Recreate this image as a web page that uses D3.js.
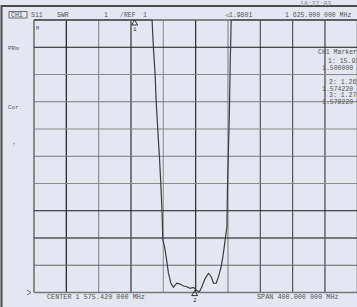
<!DOCTYPE html>
<html>
<head>
<meta charset="utf-8">
<script src="https://cdn.jsdelivr.net/npm/d3@7"></script>
<style>
  html, body { margin: 0; padding: 0; background: #e4e6f1; overflow: hidden; }
  text { font-family: "Liberation Mono", "DejaVu Sans Mono", monospace; }
</style>
</head>
<body>
<div id="chart"></div>
<script>
// S11 SWR trace, frequency in MHz
const freqMHz = [1375.42, 1420, 1460, 1500, 1515, 1521.5, 1523.1, 1525.3, 1526.5, 1528.6, 1530.6,
  1532.3, 1533.9, 1534.8, 1536.4, 1537.6, 1539.8, 1541.7, 1544.7, 1547.9, 1552.1, 1556.2,
  1560.3, 1564.5, 1568.6, 1572.7, 1576.9, 1580.1, 1583.1, 1587.2, 1591.3, 1594.7, 1597.5,
  1600.8, 1603.7, 1607.0, 1609.8, 1611.9, 1614.1, 1614.8, 1616.0, 1617.3, 1618.1, 1619.4,
  1625, 1660, 1720, 1775.42];
const swrValues = [22, 20, 18, 15.93, 13, 11.2, 10.02, 8.98, 8.06, 6.96, 5.98,
  5.01, 3.92, 2.93, 2.74, 2.56, 2.13, 1.72, 1.35, 1.19, 1.34, 1.31,
  1.24, 1.21, 1.15, 1.19, 1.07, 1.03, 1.21, 1.52, 1.70, 1.58, 1.34,
  1.34, 1.58, 1.95, 2.44, 2.93, 3.41, 4.88, 6.23, 7.82, 9.29, 11,
  13, 17, 20, 22];

const markerFreqs = [1500, 1574.22];
const markerSwr = [15.93, 1.07];
const markerNames = ["1", "2"];

const listLines = ["CH1 Markers", "1: 15.93", "1.500000 GHz", "2: 1.261", "1.574220 GHz", "3: 1.275", "1.579220 GHz"];

const centerMHz = 1575.42, spanMHz = 400;
const swrRef = 1, swrPerDiv = 1, divisions = 10;

const width = 357, height = 307;
const plotL = 34, plotR = 357.3, plotT = 20, plotB = 292.5;

const svg = d3.select("#chart").append("svg")
  .attr("width", width).attr("height", height);

svg.append("rect").attr("width", width).attr("height", height).attr("fill", "#e4e6f1");

const x = d3.scaleLinear()
  .domain([centerMHz - spanMHz / 2, centerMHz + spanMHz / 2])
  .range([plotL, plotR]);
const y = d3.scaleLinear()
  .domain([swrRef, swrRef + swrPerDiv * divisions])
  .range([plotB, plotT])
  .clamp(true);

// outer frame
svg.append("path")
  .attr("d", `M1.5,${height} V6 H${width}`)
  .attr("fill", "none").attr("stroke", "#4a4a4a").attr("stroke-width", 2);

// grid
const vColors = ["#8a8a8a", "#1e1e1e", "#8d8d8d", "#333", "#9a9a9a", "#2a2a2a", "#8a8a8a", "#555", "#555", "#444", "#666"];
const hColors = ["#777", "#666", "#555", "#1a1a1a", "#8a8a8a", "#777", "#8a8a8a", "#777", "#8a8a8a", "#1a1a1a", "#666"];
const xTicks = d3.range(divisions + 1).map(i => x.domain()[0] + i * spanMHz / divisions);
const yTicks = d3.range(divisions + 1).map(i => swrRef + i * swrPerDiv);

svg.append("g").selectAll("line").data(xTicks).enter().append("line")
  .attr("x1", d => x(d)).attr("x2", d => x(d))
  .attr("y1", plotT).attr("y2", plotB)
  .attr("stroke", (d, i) => vColors[i])
  .attr("stroke-width", (d, i) => i === 0 ? 2 : 1.2);

svg.append("g").selectAll("line").data(yTicks).enter().append("line")
  .attr("x1", plotL).attr("x2", plotR)
  .attr("y1", d => y(d)).attr("y2", d => y(d))
  .attr("stroke", (d, i) => hColors[i])
  .attr("stroke-width", (d, i) => (i === 0 || i === 10 || i === 2) ? 1.6 : 1.2);

// trace
const line = d3.line().x((d, i) => x(freqMHz[i])).y(d => y(d));
svg.append("path")
  .datum(swrValues)
  .attr("d", line)
  .attr("fill", "none")
  .attr("stroke", "#3c3c3c")
  .attr("stroke-width", 1.2);

// markers
const mk = svg.append("g").selectAll("g").data(markerFreqs).enter().append("g")
  .attr("transform", (d, i) => `translate(${x(d)},${y(markerSwr[i])})`);
mk.append("path")
  .attr("d", "M0,0 L-3,5 L3,5 Z")
  .attr("fill", "none").attr("stroke", "#333").attr("stroke-width", 1);
mk.append("text")
  .attr("y", 11).attr("text-anchor", "middle")
  .style("font-size", "6px").style("fill", "#333")
  .text((d, i) => markerNames[i]);

// header annotations
const txt = (tx, ty, s, size, col) => svg.append("text")
  .attr("x", tx).attr("y", ty)
  .style("font-size", (size || 7) + "px").style("fill", col || "#555")
  .text(s);

svg.append("rect").attr("x", 9).attr("y", 11.5).attr("width", 18).attr("height", 6.5)
  .attr("fill", "none").attr("stroke", "#555").attr("stroke-width", 0.8);
txt(11, 17.2, "CH1", 6.5);
txt(31, 17.2, "S11", 6.5);
txt(57, 17.2, "SWR", 6.5);
txt(104, 17.2, "1", 6.5);
txt(120, 17.2, "/REF", 6.5);
txt(143, 17.2, "1", 6.5);
txt(225, 17.2, "◁1.9801", 6.5);
txt(285, 17.2, "1 625.000 000 MHz", 6.5);
txt(300, 6, "18:27:03", 6.5, "#888");

// left annotations
txt(8, 50, "PRm", 6);
txt(8, 109, "Cor", 6);
txt(12, 146, "↑", 6);
txt(36, 30, "M", 5);
svg.append("path").attr("d", `M27,${plotB - 2.5} L31,${plotB} L27,${plotB + 2.5}`)
  .attr("fill", "none").attr("stroke", "#555").attr("stroke-width", 0.8);

// marker list on right
const listX = [318, 328, 322, 329, 322, 329, 322];
const listY = [54, 63, 70, 84, 91, 97, 104];
svg.append("g").selectAll("text").data(listLines).enter().append("text")
  .attr("x", (d, i) => listX[i]).attr("y", (d, i) => listY[i])
  .style("font-size", "6.5px").style("fill", "#555")
  .text(d => d);

// footer
txt(47, 299, "CENTER 1 575.420 000 MHz", 6.8);
txt(257, 299, "SPAN 400.000 000 MHz", 6.8);
</script>
</body>
</html>
